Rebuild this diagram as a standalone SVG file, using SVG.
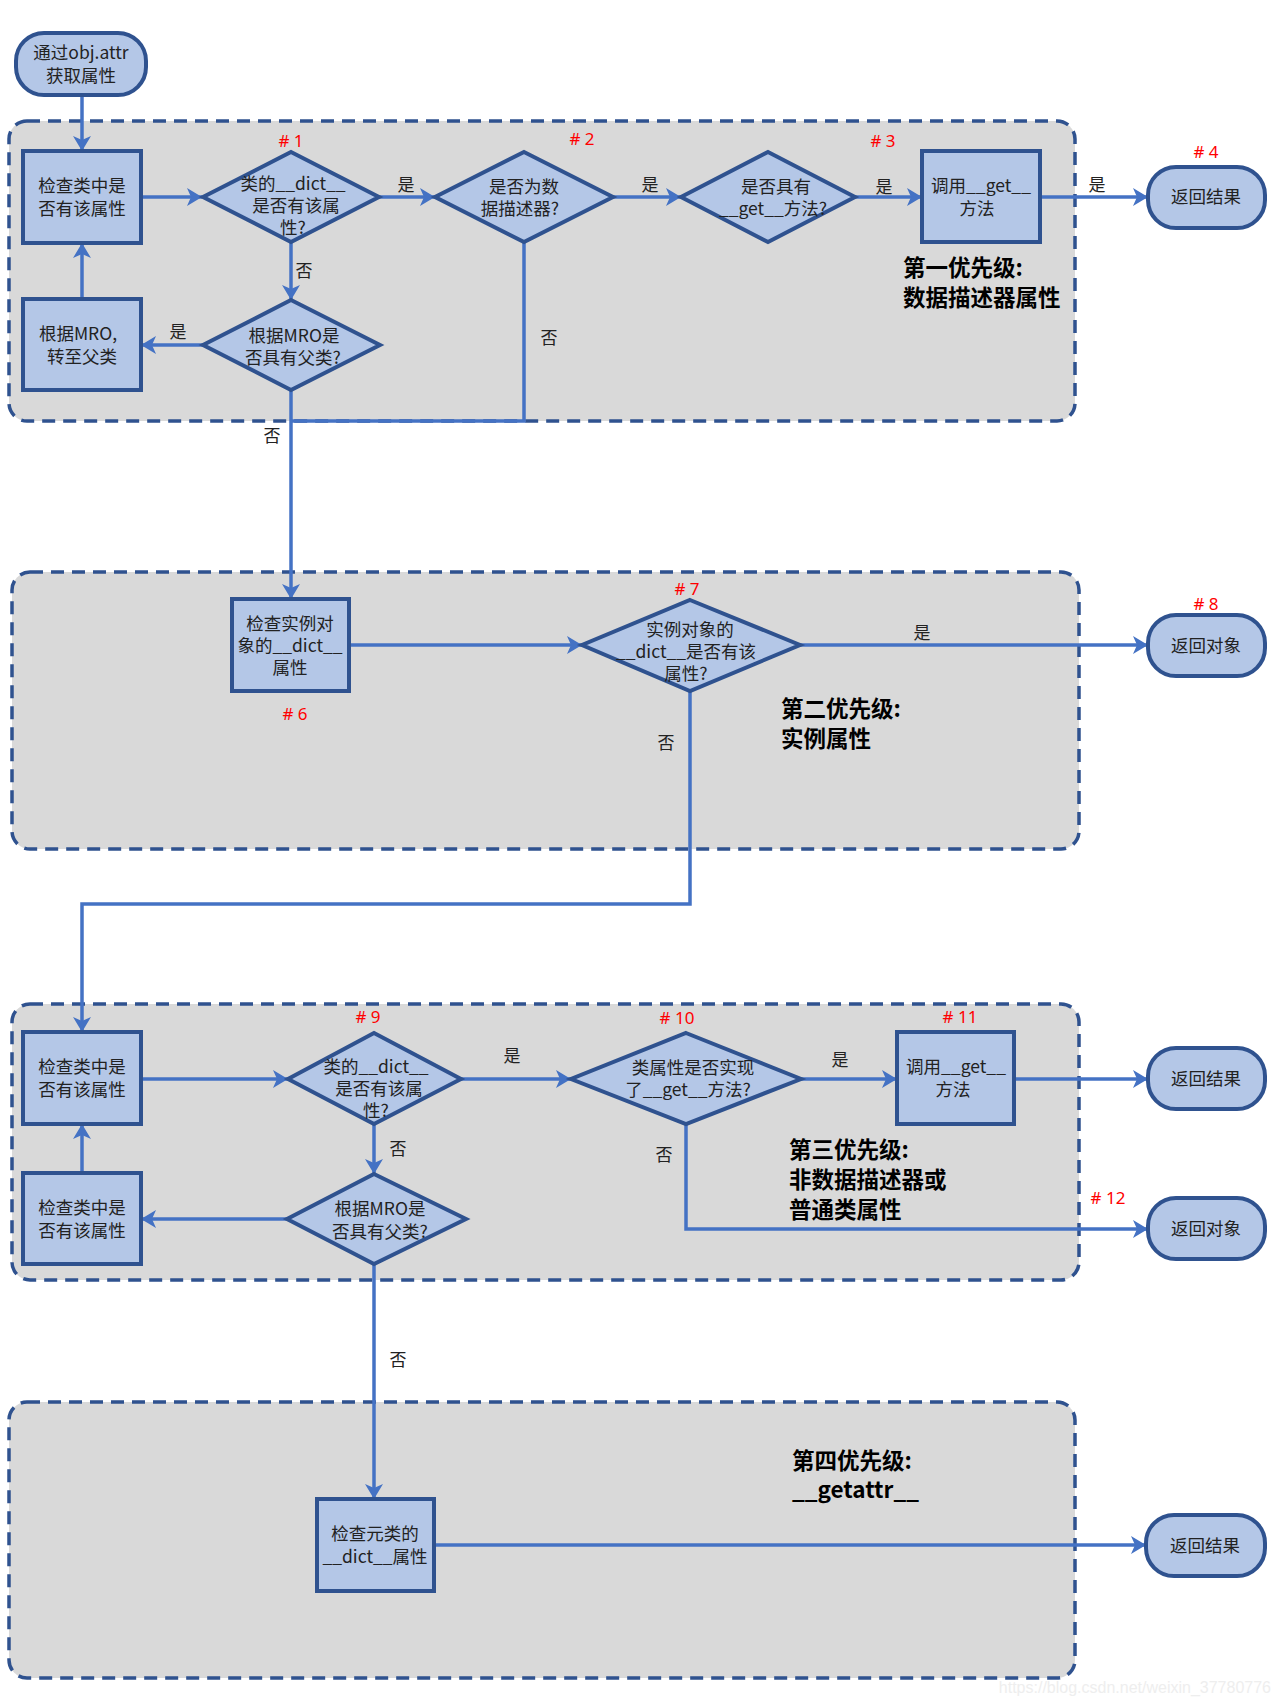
<svg xmlns="http://www.w3.org/2000/svg" width="1280" height="1707" viewBox="0 0 1280 1707">
<style>
.grp{fill:#d9d9d9;stroke:#2f528f;stroke-width:3.5;stroke-dasharray:13 8}
.box{fill:#b4c7e7;stroke:#2f528f;stroke-width:4}
.t{font-family:"Noto Sans CJK SC","Noto Sans",sans-serif;font-size:17.5px;fill:#222;text-anchor:middle}
.lbl{font-family:"Noto Sans CJK SC","Noto Sans",sans-serif;font-size:17px;fill:#222;text-anchor:middle}
.num{font-family:"Noto Sans","Noto Sans CJK SC",sans-serif;font-size:17px;fill:#ff0000;text-anchor:middle}
.big{font-family:"Noto Sans CJK SC","Noto Sans",sans-serif;font-size:22.5px;font-weight:bold;fill:#000}
.c{fill:none;stroke:#4472c4;stroke-width:3.5}
.wm{font-family:"Liberation Sans",sans-serif;font-size:16px;fill:#eeeeee}
</style>
<defs>
<marker id="ah" markerUnits="userSpaceOnUse" markerWidth="16" markerHeight="18" refX="15" refY="9" orient="auto">
<path d="M0,0 L15,9 L0,18 L4,9 Z" fill="#4472c4"/>
</marker>
</defs>

<g id="group1"><rect class="grp" x="9" y="121" width="1066" height="300" rx="18"/></g>
<g id="group2"><rect class="grp" x="12" y="572" width="1067" height="277" rx="18"/></g>
<g id="group3"><rect class="grp" x="12" y="1004" width="1067" height="276" rx="18"/></g>
<g id="group4"><rect class="grp" x="9" y="1402" width="1066" height="276" rx="18"/></g>

<g id="connectors">
<path class="c" d="M82,95 L82,151" marker-end="url(#ah)"/>
<path class="c" d="M141,197 L202,197" marker-end="url(#ah)"/>
<path class="c" d="M379,197 L435,197" marker-end="url(#ah)"/>
<path class="c" d="M613,197 L681,197" marker-end="url(#ah)"/>
<path class="c" d="M855,197 L922,197" marker-end="url(#ah)"/>
<path class="c" d="M1040,197 L1148,197" marker-end="url(#ah)"/>
<path class="c" d="M291,242 L291,300" marker-end="url(#ah)"/>
<path class="c" d="M203,345 L141,345" marker-end="url(#ah)"/>
<path class="c" d="M82,299 L82,243" marker-end="url(#ah)"/>
<path class="c" d="M524,242 L524,421 L291,421"/>
<path class="c" d="M291,390 L291,599" marker-end="url(#ah)"/>
<path class="c" d="M349,645 L582,645" marker-end="url(#ah)"/>
<path class="c" d="M800,645 L1148,645" marker-end="url(#ah)"/>
<path class="c" d="M690,691 L690,904 L82,904 L82,1032" marker-end="url(#ah)"/>
<path class="c" d="M141,1079 L288,1079" marker-end="url(#ah)"/>
<path class="c" d="M461,1079 L571,1079" marker-end="url(#ah)"/>
<path class="c" d="M801,1079 L897,1079" marker-end="url(#ah)"/>
<path class="c" d="M1014,1079 L1148,1079" marker-end="url(#ah)"/>
<path class="c" d="M374,1124 L374,1174" marker-end="url(#ah)"/>
<path class="c" d="M287,1219 L141,1219" marker-end="url(#ah)"/>
<path class="c" d="M82,1173 L82,1124" marker-end="url(#ah)"/>
<path class="c" d="M686,1124 L686,1229 L1148,1229" marker-end="url(#ah)"/>
<path class="c" d="M374,1264 L374,1499" marker-end="url(#ah)"/>
<path class="c" d="M434,1545 L1146,1545" marker-end="url(#ah)"/>
<text class="lbl" x="406" y="191">是</text>
<text class="lbl" x="650" y="191">是</text>
<text class="lbl" x="884" y="193">是</text>
<text class="lbl" x="1097" y="191">是</text>
<text class="lbl" x="304" y="277">否</text>
<text class="lbl" x="178" y="338">是</text>
<text class="lbl" x="549" y="344">否</text>
<text class="lbl" x="272" y="442">否</text>
<text class="lbl" x="922" y="639">是</text>
<text class="lbl" x="666" y="749">否</text>
<text class="lbl" x="512" y="1062">是</text>
<text class="lbl" x="840" y="1066">是</text>
<text class="lbl" x="398" y="1155">否</text>
<text class="lbl" x="664" y="1161">否</text>
<text class="lbl" x="398" y="1366">否</text>
</g>

<g id="start">
<rect class="box" x="16" y="33" width="130" height="62" rx="28"/>
<text class="t"><tspan x="81" y="59">通过obj.attr</tspan><tspan x="81" y="82">获取属性</tspan></text>
</g>

<g id="check1">
<rect class="box" x="23" y="151" width="118" height="92"/>
<text class="t"><tspan x="82" y="192">检查类中是</tspan><tspan x="82" y="215">否有该属性</tspan></text>
</g>

<g id="n1">
<polygon class="box" points="291,152 379,197 291,242 203,197"/>
<text class="num" x="291" y="147"># 1</text>
<text class="t"><tspan x="293" y="190">类的__dict__</tspan><tspan x="296" y="212">是否有该属</tspan><tspan x="293" y="234">性?</tspan></text>
</g>

<g id="n2">
<polygon class="box" points="524,152 613,197 524,242 435,197"/>
<text class="num" x="582" y="145"># 2</text>
<text class="t"><tspan x="524" y="193">是否为数</tspan><tspan x="520" y="215">据描述器?</tspan></text>
</g>

<g id="n3">
<polygon class="box" points="768,152 855,197 768,242 681,197"/>
<text class="num" x="883" y="147"># 3</text>
<text class="t"><tspan x="776" y="193">是否具有</tspan><tspan x="773" y="215">__get__方法?</tspan></text>
</g>

<g id="callget1">
<rect class="box" x="922" y="151" width="118" height="91"/>
<text class="t"><tspan x="981" y="192">调用__get__</tspan><tspan x="977" y="215">方法</tspan></text>
</g>

<g id="ret1">
<rect class="box" x="1148" y="167" width="117" height="61" rx="28"/>
<text class="num" x="1206" y="158"># 4</text>
<text class="t" x="1206" y="203">返回结果</text>
</g>

<g id="label1">
<text class="big"><tspan x="903" y="276">第一优先级:</tspan><tspan x="903" y="306">数据描述器属性</tspan></text>
</g>

<g id="mro1">
<polygon class="box" points="291,300 380,345 291,390 203,345"/>
<text class="t"><tspan x="294" y="342">根据MRO是</tspan><tspan x="293" y="364">否具有父类?</tspan></text>
</g>

<g id="parent1">
<rect class="box" x="23" y="299" width="118" height="91"/>
<text class="t"><tspan x="78" y="340">根据MRO,</tspan><tspan x="82" y="363">转至父类</tspan></text>
</g>

<g id="n6">
<rect class="box" x="232" y="599" width="117" height="92"/>
<text class="num" x="295" y="720"># 6</text>
<text class="t"><tspan x="290" y="630">检查实例对</tspan><tspan x="290" y="652">象的__dict__</tspan><tspan x="290" y="674">属性</tspan></text>
</g>

<g id="n7">
<polygon class="box" points="690,600 800,645 690,691 582,645"/>
<text class="num" x="687" y="595"># 7</text>
<text class="t"><tspan x="690" y="636">实例对象的</tspan><tspan x="686" y="658">__dict__是否有该</tspan><tspan x="686" y="680">属性?</tspan></text>
</g>

<g id="ret2">
<rect class="box" x="1148" y="615" width="117" height="61" rx="28"/>
<text class="num" x="1206" y="610"># 8</text>
<text class="t" x="1206" y="652">返回对象</text>
</g>

<g id="label2">
<text class="big"><tspan x="781" y="717">第二优先级:</tspan><tspan x="781" y="747">实例属性</tspan></text>
</g>

<g id="check3">
<rect class="box" x="23" y="1032" width="118" height="92"/>
<text class="t"><tspan x="82" y="1073">检查类中是</tspan><tspan x="82" y="1096">否有该属性</tspan></text>
</g>

<g id="n9">
<polygon class="box" points="374,1033 461,1079 374,1124 288,1079"/>
<text class="num" x="368" y="1023"># 9</text>
<text class="t"><tspan x="376" y="1073">类的__dict__</tspan><tspan x="379" y="1095">是否有该属</tspan><tspan x="376" y="1117">性?</tspan></text>
</g>

<g id="n10">
<polygon class="box" points="686,1033 801,1079 686,1124 571,1079"/>
<text class="num" x="677" y="1024"># 10</text>
<text class="t"><tspan x="693" y="1074">类属性是否实现</tspan><tspan x="688" y="1096">了__get__方法?</tspan></text>
</g>

<g id="n11">
<rect class="box" x="897" y="1032" width="117" height="92"/>
<text class="num" x="960" y="1023"># 11</text>
<text class="t"><tspan x="956" y="1073">调用__get__</tspan><tspan x="953" y="1096">方法</tspan></text>
</g>

<g id="ret3">
<rect class="box" x="1148" y="1048" width="117" height="61" rx="28"/>
<text class="t" x="1206" y="1085">返回结果</text>
</g>

<g id="mro3">
<polygon class="box" points="374,1174 466,1219 374,1264 287,1219"/>
<text class="t"><tspan x="380" y="1215">根据MRO是</tspan><tspan x="380" y="1238">否具有父类?</tspan></text>
</g>

<g id="check3b">
<rect class="box" x="23" y="1173" width="118" height="91"/>
<text class="t"><tspan x="82" y="1214">检查类中是</tspan><tspan x="82" y="1237">否有该属性</tspan></text>
</g>

<g id="n12">
<rect class="box" x="1148" y="1198" width="117" height="61" rx="28"/>
<text class="num" x="1108" y="1204"># 12</text>
<text class="t" x="1206" y="1235">返回对象</text>
</g>

<g id="label3">
<text class="big"><tspan x="789" y="1158">第三优先级:</tspan><tspan x="789" y="1188">非数据描述器或</tspan><tspan x="789" y="1218">普通类属性</tspan></text>
</g>

<g id="meta">
<rect class="box" x="317" y="1499" width="117" height="92"/>
<text class="t"><tspan x="375" y="1540">检查元类的</tspan><tspan x="375" y="1563">__dict__属性</tspan></text>
</g>

<g id="ret4">
<rect class="box" x="1146" y="1515" width="119" height="61" rx="28"/>
<text class="t" x="1205" y="1552">返回结果</text>
</g>

<g id="label4">
<text class="big"><tspan x="792" y="1469">第四优先级:</tspan><tspan x="792" y="1498">__getattr__</tspan></text>
</g>

<text class="wm" x="1271" y="1693" text-anchor="end">https://blog.csdn.net/weixin_37780776</text>
</svg>
